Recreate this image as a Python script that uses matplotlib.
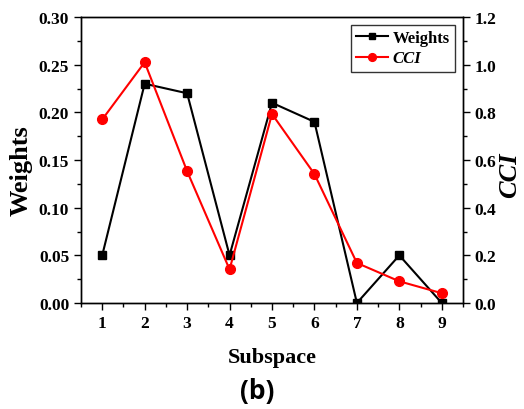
import matplotlib
matplotlib.use('Agg')
import matplotlib.pyplot as plt
from matplotlib.ticker import MultipleLocator
import numpy as np

# data
subspace = [1, 2, 3, 4, 5, 6, 7, 8, 9]
weights = [0.05, 0.23, 0.22, 0.05, 0.21, 0.19, 0.0, 0.05, 0.0]
cci = [0.77, 1.01, 0.553, 0.141, 0.793, 0.541, 0.168, 0.091, 0.041]

plt.rcParams['font.family'] = ['Liberation Serif', 'DejaVu Serif']
plt.rcParams['font.weight'] = 'bold'

fig = plt.figure(figsize=(5.24, 4.10), dpi=100)
ax = fig.add_axes([81/524, 1 - 304/410, (463-81)/524, (304-18)/410])
ax2 = ax.twinx()

l1, = ax.plot(subspace, weights, color='black', marker='s', markersize=6, linewidth=1.5, label='Weights')
l2, = ax2.plot(subspace, cci, color='red', marker='o', markersize=7, linewidth=1.5, label='CCI')

ax.set_xlim(0.5, 9.5)
ax.set_ylim(0, 0.30)
ax2.set_ylim(0, 1.2)
ax.set_xticks(subspace)
ax.xaxis.set_minor_locator(MultipleLocator(0.5))
ax.yaxis.set_major_locator(MultipleLocator(0.05))
ax.yaxis.set_minor_locator(MultipleLocator(0.025))
ax2.yaxis.set_major_locator(MultipleLocator(0.2))
ax2.yaxis.set_minor_locator(MultipleLocator(0.1))
ax.yaxis.set_major_formatter(matplotlib.ticker.FormatStrFormatter('%.2f'))
ax2.yaxis.set_major_formatter(matplotlib.ticker.FormatStrFormatter('%.1f'))

for a in (ax, ax2):
    a.tick_params(which='major', direction='out', length=5, width=1, labelsize=12.5)
    a.tick_params(which='minor', direction='out', length=3, width=1)
    for s in a.spines.values():
        s.set_linewidth(1)
ax.tick_params(axis='x', which='both', top=False)

ax.set_xlabel('Subspace', fontsize=16, fontweight='bold', labelpad=12)
ax.set_ylabel('Weights', fontsize=19, fontweight='bold')
ax2.set_ylabel('CCI', fontsize=19, fontweight='bold', fontstyle='italic')
ax.yaxis.set_label_coords(-0.126, 0.468)
ax2.yaxis.set_label_coords(1.092, 0.451)

leg = ax.legend([l1, l2], ['Weights', 'CCI'], loc='upper right', fontsize=12,
                frameon=True, fancybox=False, edgecolor='black', handlelength=1.9,
                markerscale=0.8, borderpad=0.3, labelspacing=0.25, handletextpad=0.3,
                borderaxespad=0.5)
leg.get_frame().set_linewidth(1)
leg.get_texts()[1].set_fontstyle('italic')

fig.text(257/524, 1 - 392/410, '(b)', ha='center', va='center', fontsize=19,
         fontweight='bold', family=['Open Sans', 'DejaVu Sans'])

fig.savefig('out.png', dpi=100)
